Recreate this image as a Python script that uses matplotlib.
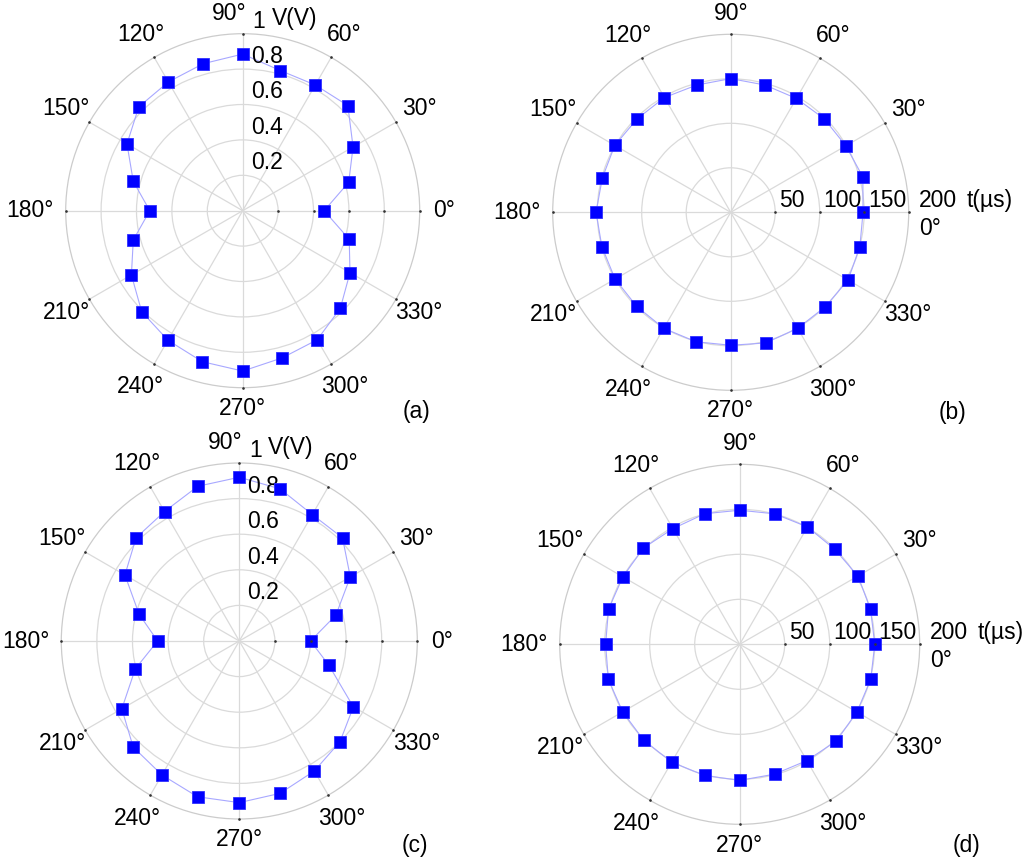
import numpy as np
import matplotlib
matplotlib.use('Agg')
import matplotlib.pyplot as plt

plt.rcParams['font.family'] = ['Liberation Sans', 'DejaVu Sans']

# measurement angles (degrees)
ANGLES = [0, 15, 30, 45, 60, 75, 90, 105, 120, 135, 150, 165,
          180, 195, 210, 225, 240, 255, 270, 285, 300, 315, 330, 345]

# (a) voltage, V
volt_a = [0.46, 0.62, 0.72, 0.84, 0.82, 0.82, 0.885, 0.86, 0.84, 0.83, 0.755, 0.64,
          0.525, 0.64, 0.726, 0.807, 0.845, 0.883, 0.906, 0.861, 0.842, 0.78, 0.70, 0.623]
# (b) time, us
time_b = [148.7, 153.7, 149.4, 148.6, 147.7, 148.1, 150.2, 148.0, 148.9, 148.6, 150.4, 149.3,
          151.3, 149.8, 150.0, 149.4, 150.5, 150.6, 149.4, 152.0, 150.5, 150.2, 152.2, 150.2]
# (c) voltage, V
volt_c = [0.40, 0.562, 0.72, 0.82, 0.82, 0.885, 0.92, 0.90, 0.84, 0.82, 0.742, 0.583,
          0.459, 0.605, 0.762, 0.843, 0.869, 0.906, 0.908, 0.886, 0.843, 0.80, 0.74, 0.52]
# (d) time, us
time_d = [150.1, 150.5, 151.7, 149.3, 150.6, 150.1, 149.0, 150.2, 148.4, 151.3, 149.9, 150.9,
          149.0, 151.1, 150.1, 150.8, 151.2, 150.9, 151.2, 149.4, 149.2, 151.9, 150.4, 150.7]

V_RINGS = [0.2, 0.4, 0.6, 0.8, 1.0]
V_LABELS = ['0.2', '0.4', '0.6', '0.8', '1']
T_RINGS = [50, 100, 150, 200]
T_LABELS = ['50', '100', '150', '200']
ANGLE_TICKS = [0, 30, 60, 90, 120, 150, 180, 210, 240, 270, 300, 330]

W, H = 1024, 863
GRID = '#dadada'
FS = 16.5


def make_axes(fig, cx, cy, rad):
    # center / radius given in figure pixels (y from top)
    rect = [(cx - rad) / W, (H - cy - rad) / H, 2 * rad / W, 2 * rad / H]
    return fig.add_axes(rect, projection='polar')


def style_polar(ax, rings, rmax):
    ax.set_ylim(0, rmax)
    ax.set_thetagrids(ANGLE_TICKS, labels=[''] * len(ANGLE_TICKS))
    ax.set_rgrids(rings[:-1], labels=[''] * (len(rings) - 1))
    ax.grid(True, color=GRID, linewidth=0.9)
    ax.spines['polar'].set_color('#cccccc')
    ax.spines['polar'].set_linewidth(0.9)
    ax.tick_params(length=0)
    ax.set_facecolor('none')
    # small tick dots on outer ring and along 0 deg axis
    th = np.deg2rad(ANGLE_TICKS)
    ax.plot(th, [rmax] * len(th), '.', color='#333333', ms=1.8, clip_on=False, zorder=5)
    ax.plot([0] * (len(rings) - 1), rings[:-1], '.', color='#333333', ms=1.8,
            clip_on=False, zorder=5)


def angle_labels(ax, rmax, skip_zero=False, shift90=0):
    for a in ANGLE_TICKS:
        if a == 0 and skip_zero:
            continue
        f = 1.15
        if a in (90, 270):
            f = 1.115
        elif a == 0:
            f = 1.14
        elif a == 180:
            f = 1.2
        if a == 90 and shift90:
            ax.annotate(f'{a}°', xy=(np.pi / 2, rmax * f), xytext=(shift90, 0),
                        textcoords='offset pixels', ha='center', va='center',
                        fontsize=FS, annotation_clip=False)
        else:
            ax.text(np.deg2rad(a), rmax * f, f'{a}°', ha='center', va='center',
                    fontsize=FS, clip_on=False)


def plot_series(ax, values):
    th = np.deg2rad(ANGLES + [ANGLES[0]])
    r = values + [values[0]]
    ax.plot(th, r, '-', color='#a8a8ff', lw=0.8, zorder=3, clip_on=False)
    ax.plot(th[:-1], r[:-1], 's', ms=9, mfc='#0000ff', mec='#3030ff', mew=0.6,
            zorder=4, clip_on=False)


def voltage_panel(fig, cx, cy, rad, values, letter, lx, ly):
    ax = make_axes(fig, cx, cy, rad)
    style_polar(ax, V_RINGS, 1.0)
    plot_series(ax, values)
    angle_labels(ax, 1.0, shift90=-14)
    for r, lbl in zip(V_RINGS, V_LABELS):
        dx = 8 if r < 1 else 10
        ax.annotate(lbl, xy=(np.pi / 2, r), xytext=(dx, 6), textcoords='offset pixels',
                    ha='left', va='baseline', fontsize=FS, annotation_clip=False)
    ax.annotate('V(V)', xy=(np.pi / 2, 1.0), xytext=(29, 9), textcoords='offset pixels',
                ha='left', va='baseline', fontsize=FS, annotation_clip=False)
    fig.text(lx / W, 1 - ly / H, letter, ha='center', va='center', fontsize=FS)
    return ax


def time_panel(fig, cx, cy, rad, values, letter, lx, ly):
    ax = make_axes(fig, cx, cy, rad)
    style_polar(ax, T_RINGS, 200)
    plot_series(ax, values)
    angle_labels(ax, 200, skip_zero=True)
    for r, lbl in zip(T_RINGS, T_LABELS):
        dx = 4 if r < 200 else 10
        ax.annotate(lbl, xy=(0, r), xytext=(dx, 5), textcoords='offset pixels',
                    ha='left', va='baseline', fontsize=FS, annotation_clip=False)
    ax.annotate('t(µs)', xy=(0, 200), xytext=(58, 5), textcoords='offset pixels',
                ha='left', va='baseline', fontsize=FS, annotation_clip=False)
    ax.annotate('0°', xy=(0, 200), xytext=(21, -16), textcoords='offset pixels',
                ha='center', va='center', fontsize=FS, annotation_clip=False)
    fig.text(lx / W, 1 - ly / H, letter, ha='center', va='center', fontsize=FS)
    return ax


def main():
    fig = plt.figure(figsize=(W / 100, H / 100), dpi=100)
    voltage_panel(fig, 242.7, 210.7, 177, volt_a, '(a)', 416.7, 411.7)
    time_panel(fig, 730.7, 212.3, 178, time_b, '(b)', 952, 412)
    voltage_panel(fig, 239.3, 641, 178, volt_c, '(c)', 415, 845)
    time_panel(fig, 739.7, 644.3, 180, time_d, '(d)', 966, 845)
    fig.savefig('out.png', dpi=100, facecolor='white')


if __name__ == '__main__':
    main()
